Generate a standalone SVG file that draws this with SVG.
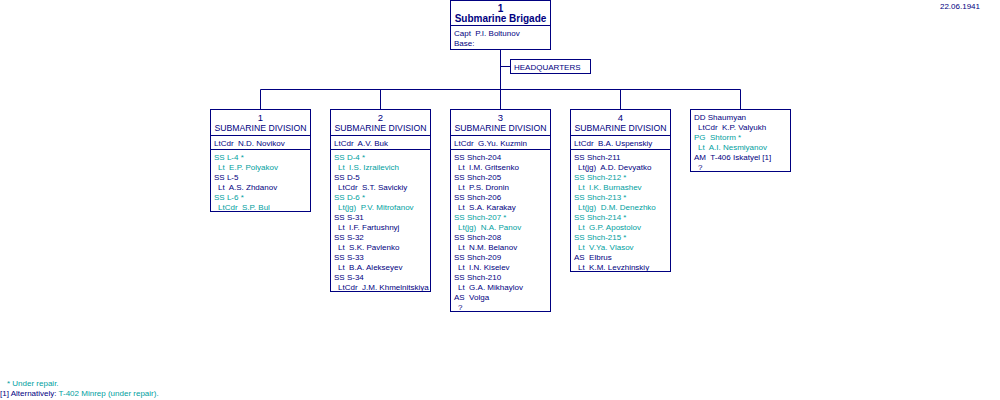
<svg xmlns="http://www.w3.org/2000/svg" width="1000" height="400" viewBox="0 0 1000 400" xml:space="preserve">
<style>
rect, line, polyline { fill: #ffffff; stroke: #000080; stroke-width: 1; }
.conn line, .conn polyline { fill: none; }
text { font-family: "Liberation Sans", Arial, sans-serif; font-size: 8px; fill: #000080; white-space: pre; }
.t { fill: #00a0a0; }
.hd { font-size: 9.5px; text-anchor: middle; }
.bd { font-size: 10px; font-weight: bold; text-anchor: middle; }
</style>
<rect x="0" y="0" width="1000" height="400" style="stroke:none;fill:#ffffff"/>
<text x="980" y="9" style="text-anchor:end">22.06.1941</text>

<g class="conn" id="connectors">
  <line x1="500.5" y1="49.5" x2="500.5" y2="109.5"/>
  <line x1="500.5" y1="66.5" x2="510.5" y2="66.5"/>
  <line x1="260.5" y1="89.5" x2="740.5" y2="89.5"/>
  <line x1="260.5" y1="89.5" x2="260.5" y2="109.5"/>
  <line x1="380.5" y1="89.5" x2="380.5" y2="109.5"/>
  <line x1="620.5" y1="89.5" x2="620.5" y2="109.5"/>
  <line x1="740.5" y1="89.5" x2="740.5" y2="109.5"/>
</g>

<g id="brigade">
  <rect x="450.5" y="0.5" width="100" height="49"/>
  <line x1="450.5" y1="25.5" x2="550.5" y2="25.5"/>
  <text class="bd" x="500.5" y="12">1</text>
  <text class="bd" x="500.5" y="21.5">Submarine Brigade</text>
  <text x="454" y="36">Capt  P.I. Boltunov</text>
  <text x="454" y="45.5">Base:</text>
</g>

<g id="hq">
  <rect x="510.5" y="59.5" width="80" height="14"/>
  <text x="514" y="70">HEADQUARTERS</text>
</g>

<g id="div1">
  <rect x="210.5" y="109.5" width="100" height="102"/>
  <line x1="210.5" y1="135.5" x2="310.5" y2="135.5"/>
  <line x1="210.5" y1="149.5" x2="310.5" y2="149.5"/>
  <text class="hd" x="260.5" y="121">1</text>
  <text class="hd" x="260.5" y="131" textLength="92" lengthAdjust="spacingAndGlyphs">SUBMARINE DIVISION</text>
  <text x="214" y="145.5">LtCdr  N.D. Novikov</text>
  <text class="t" x="214" y="159.5">SS L-4 *</text>
  <text class="t" x="218" y="169.5">Lt  E.P. Polyakov</text>
  <text x="214" y="179.5">SS L-5</text>
  <text x="218" y="189.5">Lt  A.S. Zhdanov</text>
  <text class="t" x="214" y="199.5">SS L-6 *</text>
  <text class="t" x="218" y="209.5">LtCdr  S.P. Bul</text>
</g>

<g id="div2">
  <rect x="330.5" y="109.5" width="100" height="182"/>
  <line x1="330.5" y1="135.5" x2="430.5" y2="135.5"/>
  <line x1="330.5" y1="149.5" x2="430.5" y2="149.5"/>
  <text class="hd" x="380.5" y="121">2</text>
  <text class="hd" x="380.5" y="131" textLength="92" lengthAdjust="spacingAndGlyphs">SUBMARINE DIVISION</text>
  <text x="334" y="145.5">LtCdr  A.V. Buk</text>
  <text class="t" x="334" y="159.5">SS D-4 *</text>
  <text class="t" x="338" y="169.5">Lt  I.S. Izrailevich</text>
  <text x="334" y="179.5">SS D-5</text>
  <text x="338" y="189.5">LtCdr  S.T. Savickiy</text>
  <text class="t" x="334" y="199.5">SS D-6 *</text>
  <text class="t" x="338" y="209.5">Lt(jg)  P.V. Mitrofanov</text>
  <text x="334" y="219.5">SS S-31</text>
  <text x="338" y="229.5">Lt  I.F. Fartushnyj</text>
  <text x="334" y="239.5">SS S-32</text>
  <text x="338" y="249.5">Lt  S.K. Pavlenko</text>
  <text x="334" y="259.5">SS S-33</text>
  <text x="338" y="269.5">Lt  B.A. Alekseyev</text>
  <text x="334" y="279.5">SS S-34</text>
  <text x="338" y="289.5">LtCdr  J.M. Khmelnitskiya</text>
</g>

<g id="div3">
  <rect x="450.5" y="109.5" width="100" height="202"/>
  <line x1="450.5" y1="135.5" x2="550.5" y2="135.5"/>
  <line x1="450.5" y1="149.5" x2="550.5" y2="149.5"/>
  <text class="hd" x="500.5" y="121">3</text>
  <text class="hd" x="500.5" y="131" textLength="92" lengthAdjust="spacingAndGlyphs">SUBMARINE DIVISION</text>
  <text x="454" y="145.5">LtCdr  G.Yu. Kuzmin</text>
  <text x="454" y="159.5">SS Shch-204</text>
  <text x="458" y="169.5">Lt  I.M. Gritsenko</text>
  <text x="454" y="179.5">SS Shch-205</text>
  <text x="458" y="189.5">Lt  P.S. Dronin</text>
  <text x="454" y="199.5">SS Shch-206</text>
  <text x="458" y="209.5">Lt  S.A. Karakay</text>
  <text class="t" x="454" y="219.5">SS Shch-207 *</text>
  <text class="t" x="458" y="229.5">Lt(jg)  N.A. Panov</text>
  <text x="454" y="239.5">SS Shch-208</text>
  <text x="458" y="249.5">Lt  N.M. Belanov</text>
  <text x="454" y="259.5">SS Shch-209</text>
  <text x="458" y="269.5">Lt  I.N. Kiselev</text>
  <text x="454" y="279.5">SS Shch-210</text>
  <text x="458" y="289.5">Lt  G.A. Mikhaylov</text>
  <text x="454" y="299.5">AS  Volga</text>
  <text x="458" y="309.5">?</text>
</g>

<g id="div4">
  <rect x="570.5" y="109.5" width="100" height="162"/>
  <line x1="570.5" y1="135.5" x2="670.5" y2="135.5"/>
  <line x1="570.5" y1="149.5" x2="670.5" y2="149.5"/>
  <text class="hd" x="620.5" y="121">4</text>
  <text class="hd" x="620.5" y="131" textLength="92" lengthAdjust="spacingAndGlyphs">SUBMARINE DIVISION</text>
  <text x="574" y="145.5">LtCdr  B.A. Uspenskiy</text>
  <text x="574" y="159.5">SS Shch-211</text>
  <text x="578" y="169.5">Lt(jg)  A.D. Devyatko</text>
  <text class="t" x="574" y="179.5">SS Shch-212 *</text>
  <text class="t" x="578" y="189.5">Lt  I.K. Burnashev</text>
  <text class="t" x="574" y="199.5">SS Shch-213 *</text>
  <text class="t" x="578" y="209.5">Lt(jg)  D.M. Denezhko</text>
  <text class="t" x="574" y="219.5">SS Shch-214 *</text>
  <text class="t" x="578" y="229.5">Lt  G.P. Apostolov</text>
  <text class="t" x="574" y="239.5">SS Shch-215 *</text>
  <text class="t" x="578" y="249.5">Lt  V.Ya. Vlasov</text>
  <text x="574" y="259.5">AS  Elbrus</text>
  <text x="578" y="269.5">Lt  K.M. Levzhinskiy</text>
</g>

<g id="others">
  <rect x="690.5" y="109.5" width="100" height="62"/>
  <text x="694" y="119.5">DD Shaumyan</text>
  <text x="698" y="129.5">LtCdr  K.P. Valyukh</text>
  <text class="t" x="694" y="139.5">PG  Shtorm *</text>
  <text class="t" x="698" y="149.5">Lt  A.I. Nesmiyanov</text>
  <text x="694" y="159.5">AM  T-406 Iskatyel [1]</text>
  <text x="698" y="169.5">?</text>
</g>

<text class="t" x="7" y="386">* Under repair.</text>
<text x="0" y="396">[1] Alternatively: <tspan class="t">T-402 Minrep (under repair).</tspan></text>
</svg>
